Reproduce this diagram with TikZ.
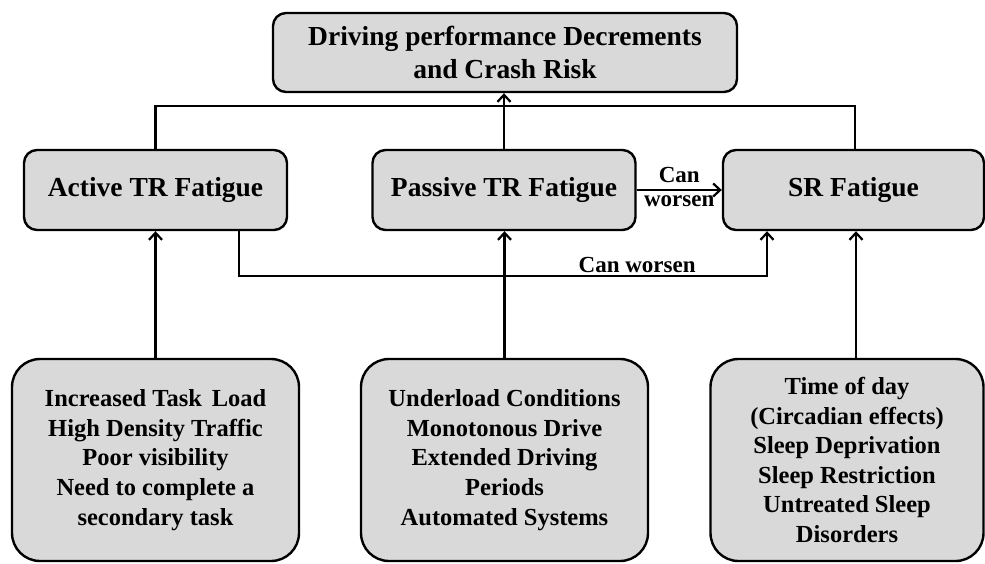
\documentclass[tikz,border=0pt]{standalone}
\usepackage{fontspec}
\setmainfont{Liberation Serif}
\usetikzlibrary{arrows.meta}
\definecolor{boxgray}{HTML}{D9D9D9}
\tikzset{
  box/.style={draw=black, fill=boxgray, line width=2.4pt, rounded corners=13pt,
    inner sep=0pt, align=center, font=\fontsize{27.5}{33}\selectfont\bfseries},
  causebox/.style={box, rounded corners=28pt, font=\fontsize{24.5}{29.6}\selectfont\bfseries},
  link/.style={line width=2.4pt},
  arrowlink/.style={link, -{Straight Barb[length=7pt,width=13pt,line width=2.2pt]}},
  lbl/.style={font=\fontsize{23}{24}\selectfont\bfseries, inner sep=1pt}
}
\begin{document}
\begin{tikzpicture}[x=1pt,y=-1pt]
  \useasboundingbox (0,0) rectangle (985,563);

  % outcome
  \node[box, minimum width=464pt, minimum height=79pt] (top) at (505,52.5)
    {Driving performance Decrements\\and Crash Risk};

  % fatigue types
  \node[box, minimum width=263pt, minimum height=80pt] (act) at (155.5,190) {Active TR Fatigue};
  \node[box, minimum width=263pt, minimum height=80pt] (pas) at (504,190) {Passive TR Fatigue};
  \node[box, minimum width=261pt, minimum height=80pt] (sr)  at (853.5,190) {SR Fatigue};

  % contributing factors
  \node[causebox, minimum width=287pt, minimum height=202pt] (bl) at (155.5,460)
    {Increased Task\hspace{0.15em} Load\\High Density Traffic\\Poor visibility\\Need to complete a\\secondary task};
  \node[causebox, minimum width=287pt, minimum height=202pt] (bm) at (504.5,460)
    {Underload Conditions\\Monotonous Drive\\Extended Driving\\Periods\\Automated Systems};
  \node[causebox, minimum width=273pt, minimum height=202pt] (br) at (847,460)
    {Time of day\\(Circadian effects)\\Sleep Deprivation\\Sleep Restriction\\Untreated Sleep\\Disorders};

  % links to the outcome
  \draw[link] (act.north) -- ++(0,-43) coordinate (busl) -| ([xshift=1.5pt]sr.north);
  \draw[arrowlink] (pas.north) -- (pas.north |- top.south);

  % worsening links
  \draw[arrowlink] (pas.east) -- node[lbl, above=5pt] {Can} node[lbl, below=3pt] {worsen} (sr.west);
  \draw[arrowlink] ([xshift=83.5pt]act.south) -- ++(0,45) coordinate (lowl)
    -| node[lbl, pos=0.377, above=1pt] {Can worsen} ([xshift=-86.5pt]sr.south);

  % factors to fatigue types
  \draw[arrowlink] (bl.north) -- (act.south);
  \draw[arrowlink] (bm.north) -- (bm.north |- pas.south);
  \draw[arrowlink] ([xshift=2.5pt]sr.south |- br.north) -- ([xshift=2.5pt]sr.south);
\end{tikzpicture}
\end{document}
